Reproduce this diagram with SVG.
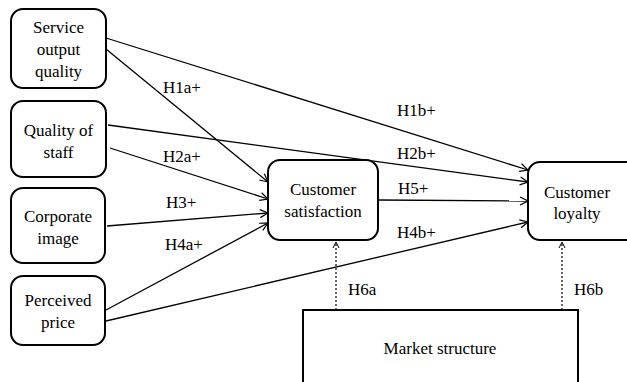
<svg xmlns="http://www.w3.org/2000/svg" width="627" height="382" viewBox="0 0 627 382">
<defs>
<marker id="arr" markerWidth="10" markerHeight="10" refX="9" refY="5" orient="auto" markerUnits="userSpaceOnUse">
<path d="M1,1 L9,5 L1,9" fill="none" stroke="#000" stroke-width="1.2"/>
</marker>
<marker id="arrd" markerWidth="10" markerHeight="10" refX="9" refY="5" orient="auto" markerUnits="userSpaceOnUse">
<path d="M3,2 L9,5 L3,8" fill="none" stroke="#000" stroke-width="1"/>
</marker>
</defs>
<style>
.box{fill:#fff;stroke:#000;stroke-width:2}
.t,.lbl{font-family:"Liberation Serif","Times New Roman",Times,"Nimbus Roman","DejaVu Serif","Noto Serif",serif;font-size:17px;fill:#000}
.t{text-anchor:middle}
.c{fill:none;stroke:#000;stroke-width:1.3;marker-end:url(#arr)}
.d{fill:none;stroke:#000;stroke-width:1.2;stroke-dasharray:2,2;marker-end:url(#arrd)}
</style>
<rect width="627" height="382" fill="#fff"/>
<g id="connectors">
<line class="c" x1="106" y1="49" x2="268" y2="182"/>
<line class="c" x1="106" y1="38" x2="528" y2="170"/>
<line class="c" x1="108" y1="125" x2="528" y2="182"/>
<line class="c" x1="110" y1="148" x2="268" y2="199"/>
<line class="c" x1="107" y1="226" x2="268" y2="213"/>
<line class="c" x1="106" y1="310" x2="268" y2="223"/>
<line class="c" x1="106" y1="321" x2="528" y2="222"/>
<line class="c" x1="378" y1="200" x2="528" y2="201"/>
<line class="d" x1="336" y1="310" x2="336" y2="242"/>
<line class="d" x1="562" y1="310" x2="562" y2="242"/>
<text class="lbl" x="163" y="93">H1a+</text>
<text class="lbl" x="163" y="162">H2a+</text>
<text class="lbl" x="166" y="208">H3+</text>
<text class="lbl" x="165" y="250">H4a+</text>
<text class="lbl" x="397" y="116">H1b+</text>
<text class="lbl" x="397" y="159">H2b+</text>
<text class="lbl" x="398" y="194">H5+</text>
<text class="lbl" x="397" y="238">H4b+</text>
<text class="lbl" x="348" y="295">H6a</text>
<text class="lbl" x="574" y="295">H6b</text>
</g>
<g id="service">
<rect class="box" x="11" y="9" width="95" height="79" rx="12"/>
<text class="t" x="58.5" y="33">Service</text>
<text class="t" x="58.5" y="55">output</text>
<text class="t" x="58.5" y="77">quality</text>
</g>
<g id="staff">
<rect class="box" x="11" y="101" width="95" height="76" rx="12"/>
<text class="t" x="58.5" y="136">Quality of</text>
<text class="t" x="58.5" y="158">staff</text>
</g>
<g id="image">
<rect class="box" x="11" y="188" width="94" height="75" rx="12"/>
<text class="t" x="58" y="222">Corporate</text>
<text class="t" x="58" y="244">image</text>
</g>
<g id="price">
<rect class="box" x="11" y="276" width="94" height="69" rx="12"/>
<text class="t" x="58" y="306">Perceived</text>
<text class="t" x="58" y="328">price</text>
</g>
<g id="satisfaction">
<rect class="box" x="268" y="160" width="110" height="80" rx="12"/>
<text class="t" x="323" y="195">Customer</text>
<text class="t" x="323" y="217">satisfaction</text>
</g>
<g id="loyalty">
<rect class="box" x="528" y="162" width="110" height="78" rx="12"/>
<text class="t" x="577" y="198">Customer</text>
<text class="t" x="577" y="219">loyalty</text>
</g>
<g id="market">
<rect class="box" x="303" y="310" width="275" height="90"/>
<text class="t" x="440" y="354">Market structure</text>
</g>
</svg>
